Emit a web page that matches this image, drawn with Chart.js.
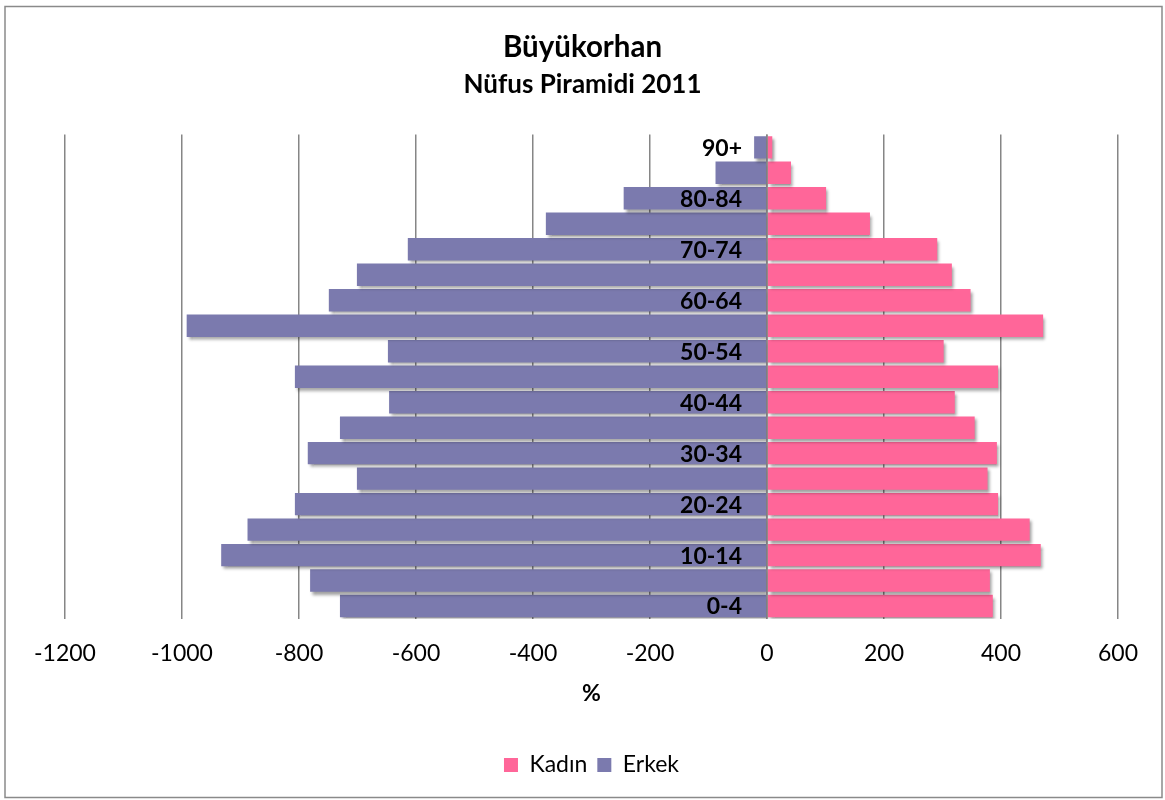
<!DOCTYPE html>
<html>
<head>
<meta charset="utf-8">
<script src="https://cdn.jsdelivr.net/npm/chart.js@4"></script>
<style>
  body { margin: 0; background: #fff; }
</style>
</head>
<body>
<canvas id="chart" width="1165" height="800"></canvas>
<script>
'use strict';

// age groups, bottom to top
let ageGroups = ['0-4', '5-9', '10-14', '15-19', '20-24', '25-29', '30-34', '35-39', '40-44',
  '45-49', '50-54', '55-59', '60-64', '65-69', '70-74', '75-79', '80-84', '85-89', '90+'];

// women (right side)
let kadin = [386, 381, 468, 449, 395, 377, 393, 355, 321, 395, 302, 472, 348, 316, 291, 176, 101, 41, 9];

// men (left side, negative)
let erkek = [-730, -781, -933, -888, -807, -701, -785, -730, -646, -807, -648, -992, -749, -701, -614, -378, -245, -88, -22];

// x axis range
let xMin = -1200;
let xMax = 600;
let xStep = 200;

const FONT = 'Lato, "Open Sans", sans-serif';

// gray frame round the whole chart
const framePlugin = {
  id: 'frame',
  beforeDraw(chart) {
    const ctx = chart.ctx;
    ctx.save();
    ctx.fillStyle = '#fff';
    ctx.fillRect(0, 0, chart.width, chart.height);
    ctx.strokeStyle = '#8a8a8a';
    ctx.lineWidth = 1.5;
    ctx.strokeRect(5, 6.5, 1157, 791);
    ctx.restore();
  }
};

// soft shadow under the bars, like the excel original
const shadowPlugin = {
  id: 'barShadow',
  beforeDatasetsDraw(chart) {
    const ctx = chart.ctx;
    ctx.save();
    ctx.shadowColor = 'rgba(0,0,0,0.38)';
    ctx.shadowBlur = 3;
    ctx.shadowOffsetX = 2;
    ctx.shadowOffsetY = 3;
  },
  afterDatasetsDraw(chart) {
    chart.ctx.restore();
  }
};

// the category axis sits on the zero line, labels drawn on top of the bars
const zeroAxisPlugin = {
  id: 'zeroAxis',
  afterDatasetsDraw(chart) {
    const ctx = chart.ctx;
    const x = chart.scales.x;
    const y = chart.scales.y;
    const x0 = x.getPixelForValue(0);
    ctx.save();
    ctx.strokeStyle = '#868686';
    ctx.lineWidth = 1.5;
    ctx.beginPath();
    ctx.moveTo(x0, chart.chartArea.top);
    ctx.lineTo(x0, chart.chartArea.bottom);
    ctx.stroke();
    ctx.fillStyle = '#000';
    ctx.font = 'bold 23px ' + FONT;
    ctx.textAlign = 'right';
    ctx.textBaseline = 'middle';
    for (let i = 0; i < ageGroups.length; i += 2) {
      ctx.fillText(ageGroups[i], x0 - 25, y.getPixelForValue(i) + 1);
    }
    ctx.restore();
  }
};

const myChart = new Chart(document.getElementById('chart'), {
  type: 'bar',
  data: {
    labels: ageGroups,
    datasets: [
      { label: 'Kadın', data: kadin, backgroundColor: '#ff6699', borderWidth: 0 },
      { label: 'Erkek', data: erkek, backgroundColor: '#7b7aae', borderWidth: 0 }
    ]
  },
  options: {
    indexAxis: 'y',
    responsive: false,
    animation: false,
    devicePixelRatio: 1,
    layout: { padding: { left: 47, right: 47, top: 0, bottom: 13.5 } },
    datasets: { bar: { categoryPercentage: 1, barPercentage: 0.88 } },
    scales: {
      x: {
        stacked: true,
        min: xMin,
        max: xMax,
        ticks: {
          stepSize: xStep,
          color: '#000',
          padding: 21,
          font: { family: FONT, size: 23 },
          callback: function (value) { return String(value); }
        },
        grid: { color: '#868686', lineWidth: 1.5, drawTicks: false },
        border: { display: false },
        title: {
          display: true,
          text: '%',
          color: '#000',
          font: { family: FONT, size: 23, weight: 'bold' },
          padding: { top: -8.5, bottom: 36 }
        }
      },
      y: {
        stacked: true,
        reverse: true,
        grid: { display: false },
        border: { display: false },
        ticks: { display: false },
        afterFit: function (scale) { scale.width = 18; }
      }
    },
    plugins: {
      title: {
        display: true,
        text: 'Büyükorhan',
        color: '#000',
        font: { family: FONT, size: 29.5, weight: 'bold' },
        padding: { top: 30, bottom: 4 }
      },
      subtitle: {
        display: true,
        text: 'Nüfus Piramidi 2011',
        color: '#000',
        font: { family: FONT, size: 26, weight: 'bold' },
        padding: { top: 0, bottom: 34 }
      },
      legend: {
        position: 'bottom',
        fullSize: false,
        labels: {
          color: '#000',
          boxWidth: 14,
          boxHeight: 14,
          padding: 10,
          font: { family: FONT, size: 23 }
        }
      },
      tooltip: { enabled: false }
    }
  },
  plugins: [framePlugin, shadowPlugin, zeroAxisPlugin]
});
</script>
</body>
</html>
